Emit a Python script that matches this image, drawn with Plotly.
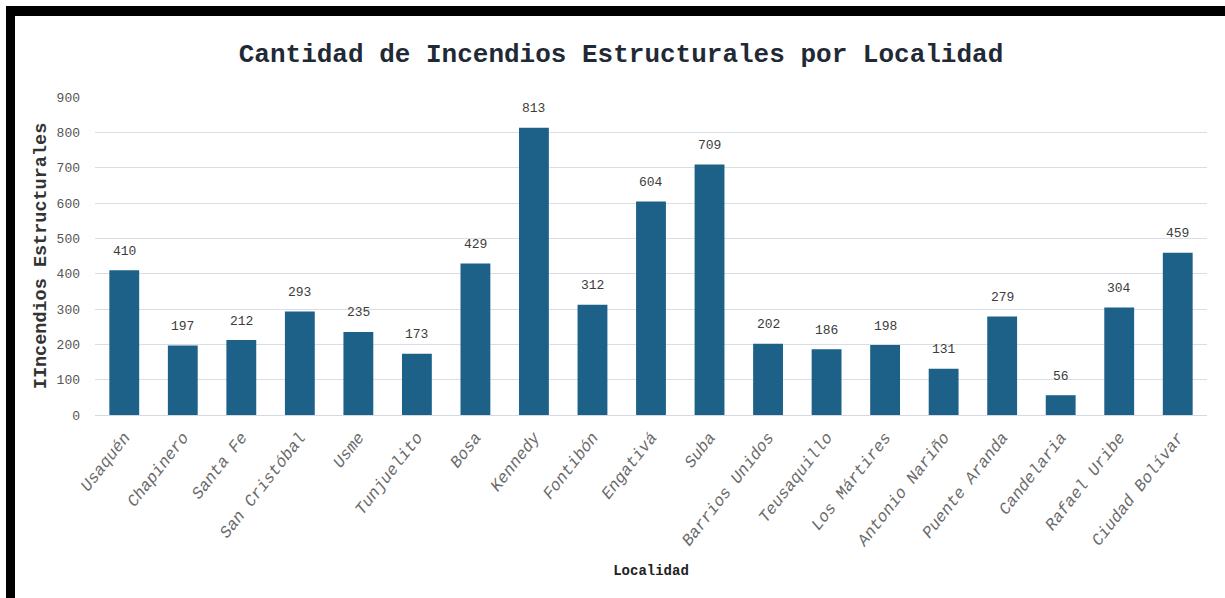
import plotly.graph_objects as go

localidades = ["Usaquén", "Chapinero", "Santa Fe", "San Cristóbal", "Usme", "Tunjuelito",
               "Bosa", "Kennedy", "Fontibón", "Engativá", "Suba", "Barrios Unidos",
               "Teusaquillo", "Los Mártires", "Antonio Nariño", "Puente Aranda",
               "Candelaria", "Rafael Uribe", "Ciudad Bolívar"]
incendios = [410, 197, 212, 293, 235, 173, 429, 813, 312, 604, 709, 202,
             186, 198, 131, 279, 56, 304, 459]
y_ticks = [0, 100, 200, 300, 400, 500, 600, 700, 800, 900]

W, H = 1225, 598
L, R, T, B = 95, 18, 97, 183
FONT = "Courier New, Liberation Mono, monospace"

def px_x(p):
    return (p - L) / (W - L - R)

def px_y(p):
    return (H - B - p) / (H - T - B)

fig = go.Figure()
fig.add_trace(go.Bar(
    x=localidades, y=incendios,
    marker=dict(color="#1d6189", line=dict(width=0)),
    width=0.51,
    hoverinfo="x+y",
))

for c, v in zip(localidades, incendios):
    fig.add_annotation(x=c, y=v, text=str(v), showarrow=False, yshift=19,
                       yanchor="middle", xanchor="center",
                       font=dict(family=FONT, size=13, color="#3c3c3c"))

# black frame of the screenshot
shapes = [
    dict(type="rect", xref="paper", yref="paper",
         x0=px_x(6), x1=px_x(W + 5), y0=px_y(16), y1=px_y(6),
         fillcolor="black", line=dict(width=0), layer="above"),
    dict(type="rect", xref="paper", yref="paper",
         x0=px_x(6), x1=px_x(15), y0=px_y(H + 5), y1=px_y(6),
         fillcolor="black", line=dict(width=0), layer="above"),
]

fig.update_layout(
    width=W, height=H,
    margin=dict(l=L, r=R, t=T, b=B, pad=0),
    paper_bgcolor="white", plot_bgcolor="white",
    showlegend=False,
    shapes=shapes,
    title=dict(text="<b>Cantidad de Incendios Estructurales por Localidad</b>",
               x=621 / W, xanchor="center", xref="container",
               y=1 - 53 / H, yanchor="middle", yref="container",
               font=dict(family=FONT, size=26, color="#1f2a36")),
    bargap=0.48,
    xaxis=dict(
        tickangle=-52,
        tickfont=dict(family=FONT, size=16.5, color="#6a6a6a", style="italic"),
        showgrid=False, showline=True, linecolor="#d6d9de", linewidth=1,
        ticks="", ticklabelstandoff=5,
        title=dict(text="<b>Localidad</b>", standoff=15,
                   font=dict(family=FONT, size=14, color="#222222")),
    ),
    yaxis=dict(
        range=[0, 900], tickvals=y_ticks,
        tickfont=dict(family=FONT, size=13, color="#555555"),
        showgrid=True, gridcolor="#d9dee6", gridwidth=1,
        zeroline=True, zerolinecolor="#d6d9de", zerolinewidth=1,
        ticks="", ticklabelstandoff=14,
        title=dict(text="<b>IIncendios Estructurales</b>", standoff=5,
                   font=dict(family=FONT, size=18.5, color="#333333")),
    ),
)

fig.write_html("out.html", post_script="document.body.style.margin='0';",
               config={"displayModeBar": False})
